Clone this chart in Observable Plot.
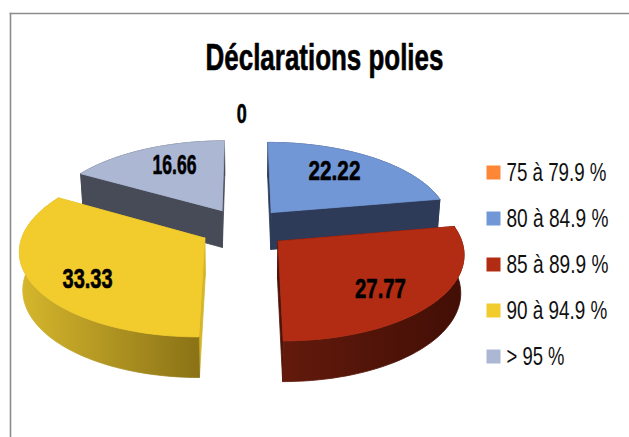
<!DOCTYPE html>
<html lang="fr">
<head>
<meta charset="utf-8">
<script src="https://cdn.jsdelivr.net/npm/d3@7"></script>
<script src="https://cdn.jsdelivr.net/npm/@observablehq/plot@0.6"></script>
<style>
html,body{margin:0;padding:0;background:#fff;overflow:hidden}
svg{display:block}
</style>
</head>
<body>
<div id="chart"></div>
<script>
const chartTitle = "Déclarations polies";
const categories = ["75 à 79.9 %", "80 à 84.9 %", "85 à 89.9 %", "90 à 94.9 %", "> 95 %"];
const values = [0, 22.22, 27.77, 33.33, 16.66];
const faceColors = ["#fe8637", "#7297d6", "#b22c13", "#f2cb2c", "#acb7d4"];
const wallColors = ["#7f431b", "#2d3b59", "#4f1308", "#d4b52c", "#474b57"];
const wallLeft = {2: "#621a0c", 3: "#d6b72d"};
const wallRight = {2: "#420e05", 3: "#8a7216"};
const labelAngle = [359.5, 35.5, 135.8, 232.4, 334];
const labelRadius = [1.415, 0.683, 0.726, 0.744, 0.69];
const labelWidth = [10, 52, 51, 50, 44];
const legendWidth = [100, 102, 102, 101, 58];
const paintOrder = [4, 1, 3, 2];

// Pie geometry in plot units: 1 unit of x = pie radius, 1 unit of y = foreshortened radius
const perspective = 0.13, explode = 0.245, rad = Math.PI / 180;
const total = d3.sum(values);
const ends = Array.from(d3.cumsum(values)).map(v => v / total * 360);
const starts = ends.map((e, i) => e - values[i] / total * 360);
const W = 629, H = 437, mL = 10, mT = 13, cx = 243, cy = 227.3, ux = 180, uy = 83;
const xDomain = [(mL - cx) / ux, (W - cx) / ux];
const yDomain = [(cy - H) / uy, (cy - mT) / uy];
const unitX = px => (px - cx) / ux, unitY = py => (cy - py) / uy;

function topPt(i, r, deg) {
  const b = (starts[i] + ends[i]) / 2 * rad;
  const X = explode * Math.sin(b) + r * Math.sin(deg * rad);
  const V = explode * Math.cos(b) + r * Math.cos(deg * rad);
  const k = 1 / (1 + perspective * V);
  return [X * k, V * k];
}
const lowPt = ([x, y]) => [x * 0.985, y - (0.45 - 0.03 * y)];

const shapes = [];
let shapeId = 0;
function poly(pts, color) {
  const z = shapeId++;
  [...pts, pts[0]].forEach(p => shapes.push({x: p[0], y: p[1], z, color}));
}
for (const i of paintOrder) {
  const a0 = starts[i], a1 = ends[i], n = Math.ceil((a1 - a0) / 2);
  const arc = d3.range(n + 1).map(j => topPt(i, 1, a0 + (a1 - a0) * j / n));
  const apex = topPt(i, 0, 0);
  for (const t of [arc[0], arc[n]]) {
    poly([apex, t, lowPt(t), lowPt(apex)], wallColors[i]);
  }
  poly([...arc, ...arc.slice().reverse().map(lowPt)], wallLeft[i] ? `url(#wall${i})` : wallColors[i]);
  poly([apex, ...arc], faceColors[i]);
}

const labels = values.map((v, i) => {
  const b = (starts[i] + ends[i]) / 2 * rad;
  const X = explode * Math.sin(b) + labelRadius[i] * Math.sin(labelAngle[i] * rad);
  const V = explode * Math.cos(b) + labelRadius[i] * Math.cos(labelAngle[i] * rad);
  const k = 1 / (1 + perspective * V);
  return {x: X * k, y: V * k, text: String(v), width: labelWidth[i]};
});

const legendRows = categories.map((c, i) => ({
  label: c, color: faceColors[i],
  sx: unitX(493), tx: unitX(506), y: unitY(172 + 46 * i), width: legendWidth[i]
}));

function wallGradients() {
  const defs = d3.create("svg:defs");
  for (const i of Object.keys(wallLeft)) {
    const g = defs.append("linearGradient").attr("id", `wall${i}`).attr("x1", 0).attr("x2", 1).attr("y1", 0).attr("y2", 0);
    g.append("stop").attr("offset", 0).attr("stop-color", wallLeft[i]);
    g.append("stop").attr("offset", 1).attr("stop-color", wallRight[i]);
  }
  return defs.node();
}

const narrow = "'Liberation Sans Narrow','Liberation Sans',sans-serif";
const chart = Plot.plot({
  width: W, height: H,
  marginLeft: mL, marginTop: mT, marginRight: 0, marginBottom: 0,
  x: {domain: xDomain, axis: null},
  y: {domain: yDomain, axis: null},
  color: {type: "identity"},
  marks: [
    wallGradients,
    Plot.frame({anchor: "left", stroke: "#8c8c8c", strokeWidth: 1.6, strokeOpacity: 1}),
    Plot.frame({anchor: "top", stroke: "#8c8c8c", strokeWidth: 1.6, strokeOpacity: 1}),
    Plot.line(shapes, {x: "x", y: "y", z: "z", fill: "color", stroke: "color", strokeWidth: 0.8, strokeLinejoin: "round", curve: "linear"}),
    Plot.text(labels, {x: "x", y: "y", text: "text", fontFamily: narrow, fontWeight: "bold", fontSize: 28, fill: "#000", stroke: "#000", strokeWidth: 0.6, textAnchor: "middle", lineAnchor: "middle", className: "fit"}),
    Plot.dot(legendRows, {x: "sx", y: "y", symbol: "square", r: 7.9, fill: "color", stroke: null}),
    Plot.text(legendRows, {x: "tx", y: "y", text: "label", fontFamily: narrow, fontSize: 26, fill: "#111", textAnchor: "start", lineAnchor: "middle", className: "fit"}),
    Plot.text([chartTitle], {x: [unitX(324)], y: [unitY(58)], text: d => d, fontFamily: narrow, fontWeight: "bold", fontSize: 37, fill: "#000", stroke: "#000", strokeWidth: 0.6, textAnchor: "middle", lineAnchor: "middle", className: "fit-title"})
  ]
});
document.getElementById("chart").append(chart);

// The reference uses a very condensed face: squeeze the real text to its measured width
function squeeze(el, target) {
  const natural = el.getComputedTextLength();
  const t = el.getAttribute("transform") || "";
  el.setAttribute("transform", `${t} scale(${target / natural},1)`);
}
const widths = [...labels.map(d => d.width), ...legendRows.map(d => d.width)];
d3.select(chart).selectAll(".fit text").each(function (d, i) { squeeze(this, widths[i]); });
d3.select(chart).selectAll(".fit-title text").each(function () { squeeze(this, 238); });
</script>
</body>
</html>
